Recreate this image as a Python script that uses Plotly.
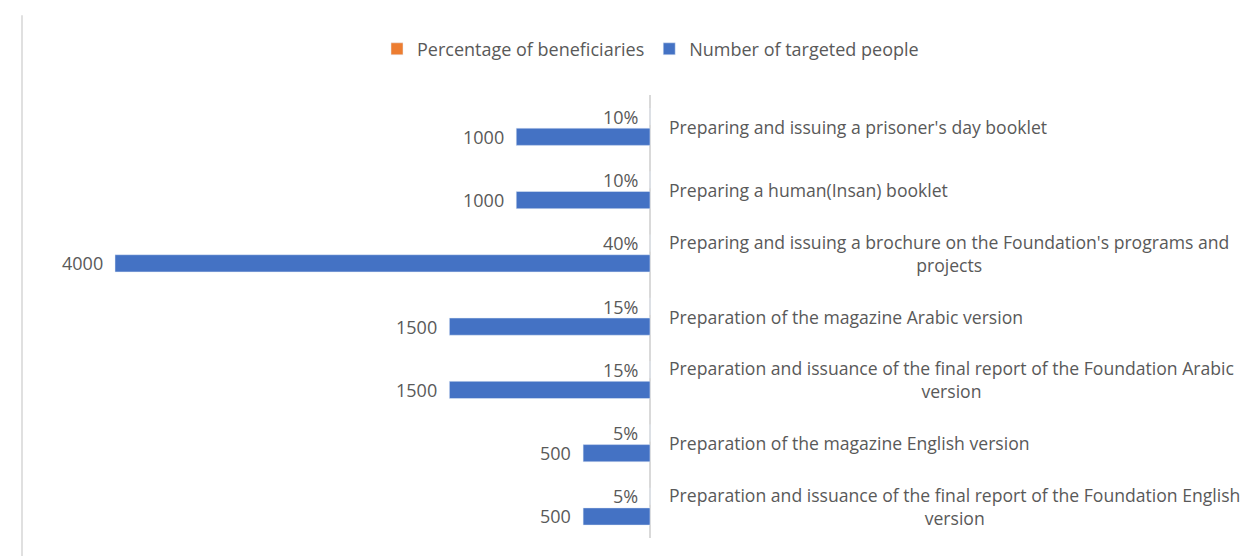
import plotly.graph_objects as go

categories = [
    "Preparing and issuing a prisoner's day booklet",
    "Preparing a human(Insan) booklet",
    "Preparing and issuing a brochure on the Foundation's programs and<br>projects",
    "Preparation of the magazine Arabic version",
    "Preparation and issuance of the final report of the Foundation Arabic<br>version",
    "Preparation of the magazine English version",
    "Preparation and issuance of the final report of the Foundation English<br>version",
]
cat_keys = [f"c{i}" for i in range(len(categories))]
pct_beneficiaries = [0.10, 0.10, 0.40, 0.15, 0.15, 0.05, 0.05]
targeted_people = [1000, 1000, 4000, 1500, 1500, 500, 500]

FONT = "Open Sans"
FS = 18
GRAY = "#595959"

fig = go.Figure()
fig.add_trace(go.Bar(
    y=cat_keys, x=pct_beneficiaries, orientation="h",
    name="Percentage of beneficiaries", marker_color="#ED7D31",
))
fig.add_trace(go.Bar(
    y=cat_keys, x=targeted_people, orientation="h",
    name="Number of targeted people", marker_color="#4472C4",
))

lab_font = dict(family=FONT, size=FS, color=GRAY)
cat_font = dict(family=FONT, size=17.6, color=GRAY)
for key, label, p, n in zip(cat_keys, categories, pct_beneficiaries, targeted_people):
    # category label, right of the axis
    fig.add_annotation(x=0, y=key, xanchor="left", xshift=17,
                       text=label, showarrow=False, align="center", font=cat_font)
    # percentage data label (orange bar, upper slot)
    fig.add_annotation(x=p, y=key, xanchor="right", xshift=-10, yshift=10,
                       text=f"{p:.0%}", showarrow=False, font=lab_font)
    # number data label (blue bar, lower slot)
    fig.add_annotation(x=n, y=key, xanchor="right", xshift=-10, yshift=-10,
                       text=f"{n}", showarrow=False, font=lab_font)

fig.add_shape(type="line", xref="paper", yref="paper",
              x0=0.0112, x1=0.0112, y0=-0.05, y1=1.18,
              line=dict(color="#e0e0e0", width=2), layer="below")

fig.update_layout(
    width=1250, height=548,
    margin=dict(l=0, r=0, t=87, b=18, autoexpand=False),
    paper_bgcolor="white", plot_bgcolor="white",
    barmode="group", bargap=0.36, bargroupgap=0.15,
    font=dict(family=FONT, size=FS, color=GRAY),
    showlegend=True,
    legend=dict(orientation="h", x=0.514, xref="container", xanchor="center",
                y=0.925, yref="container", yanchor="middle",
                font=lab_font, itemwidth=30, traceorder="normal"),
)
fig.update_xaxes(range=[4800, -4546], showgrid=False,
                 zeroline=True, zerolinecolor="#d9d9d9", zerolinewidth=2,
                 showticklabels=False, showline=False)
fig.update_yaxes(categoryorder="array", categoryarray=cat_keys,
                 autorange="reversed", showticklabels=False,
                 showgrid=False, zeroline=False, showline=False, ticks="")

fig.write_html("out.html")
